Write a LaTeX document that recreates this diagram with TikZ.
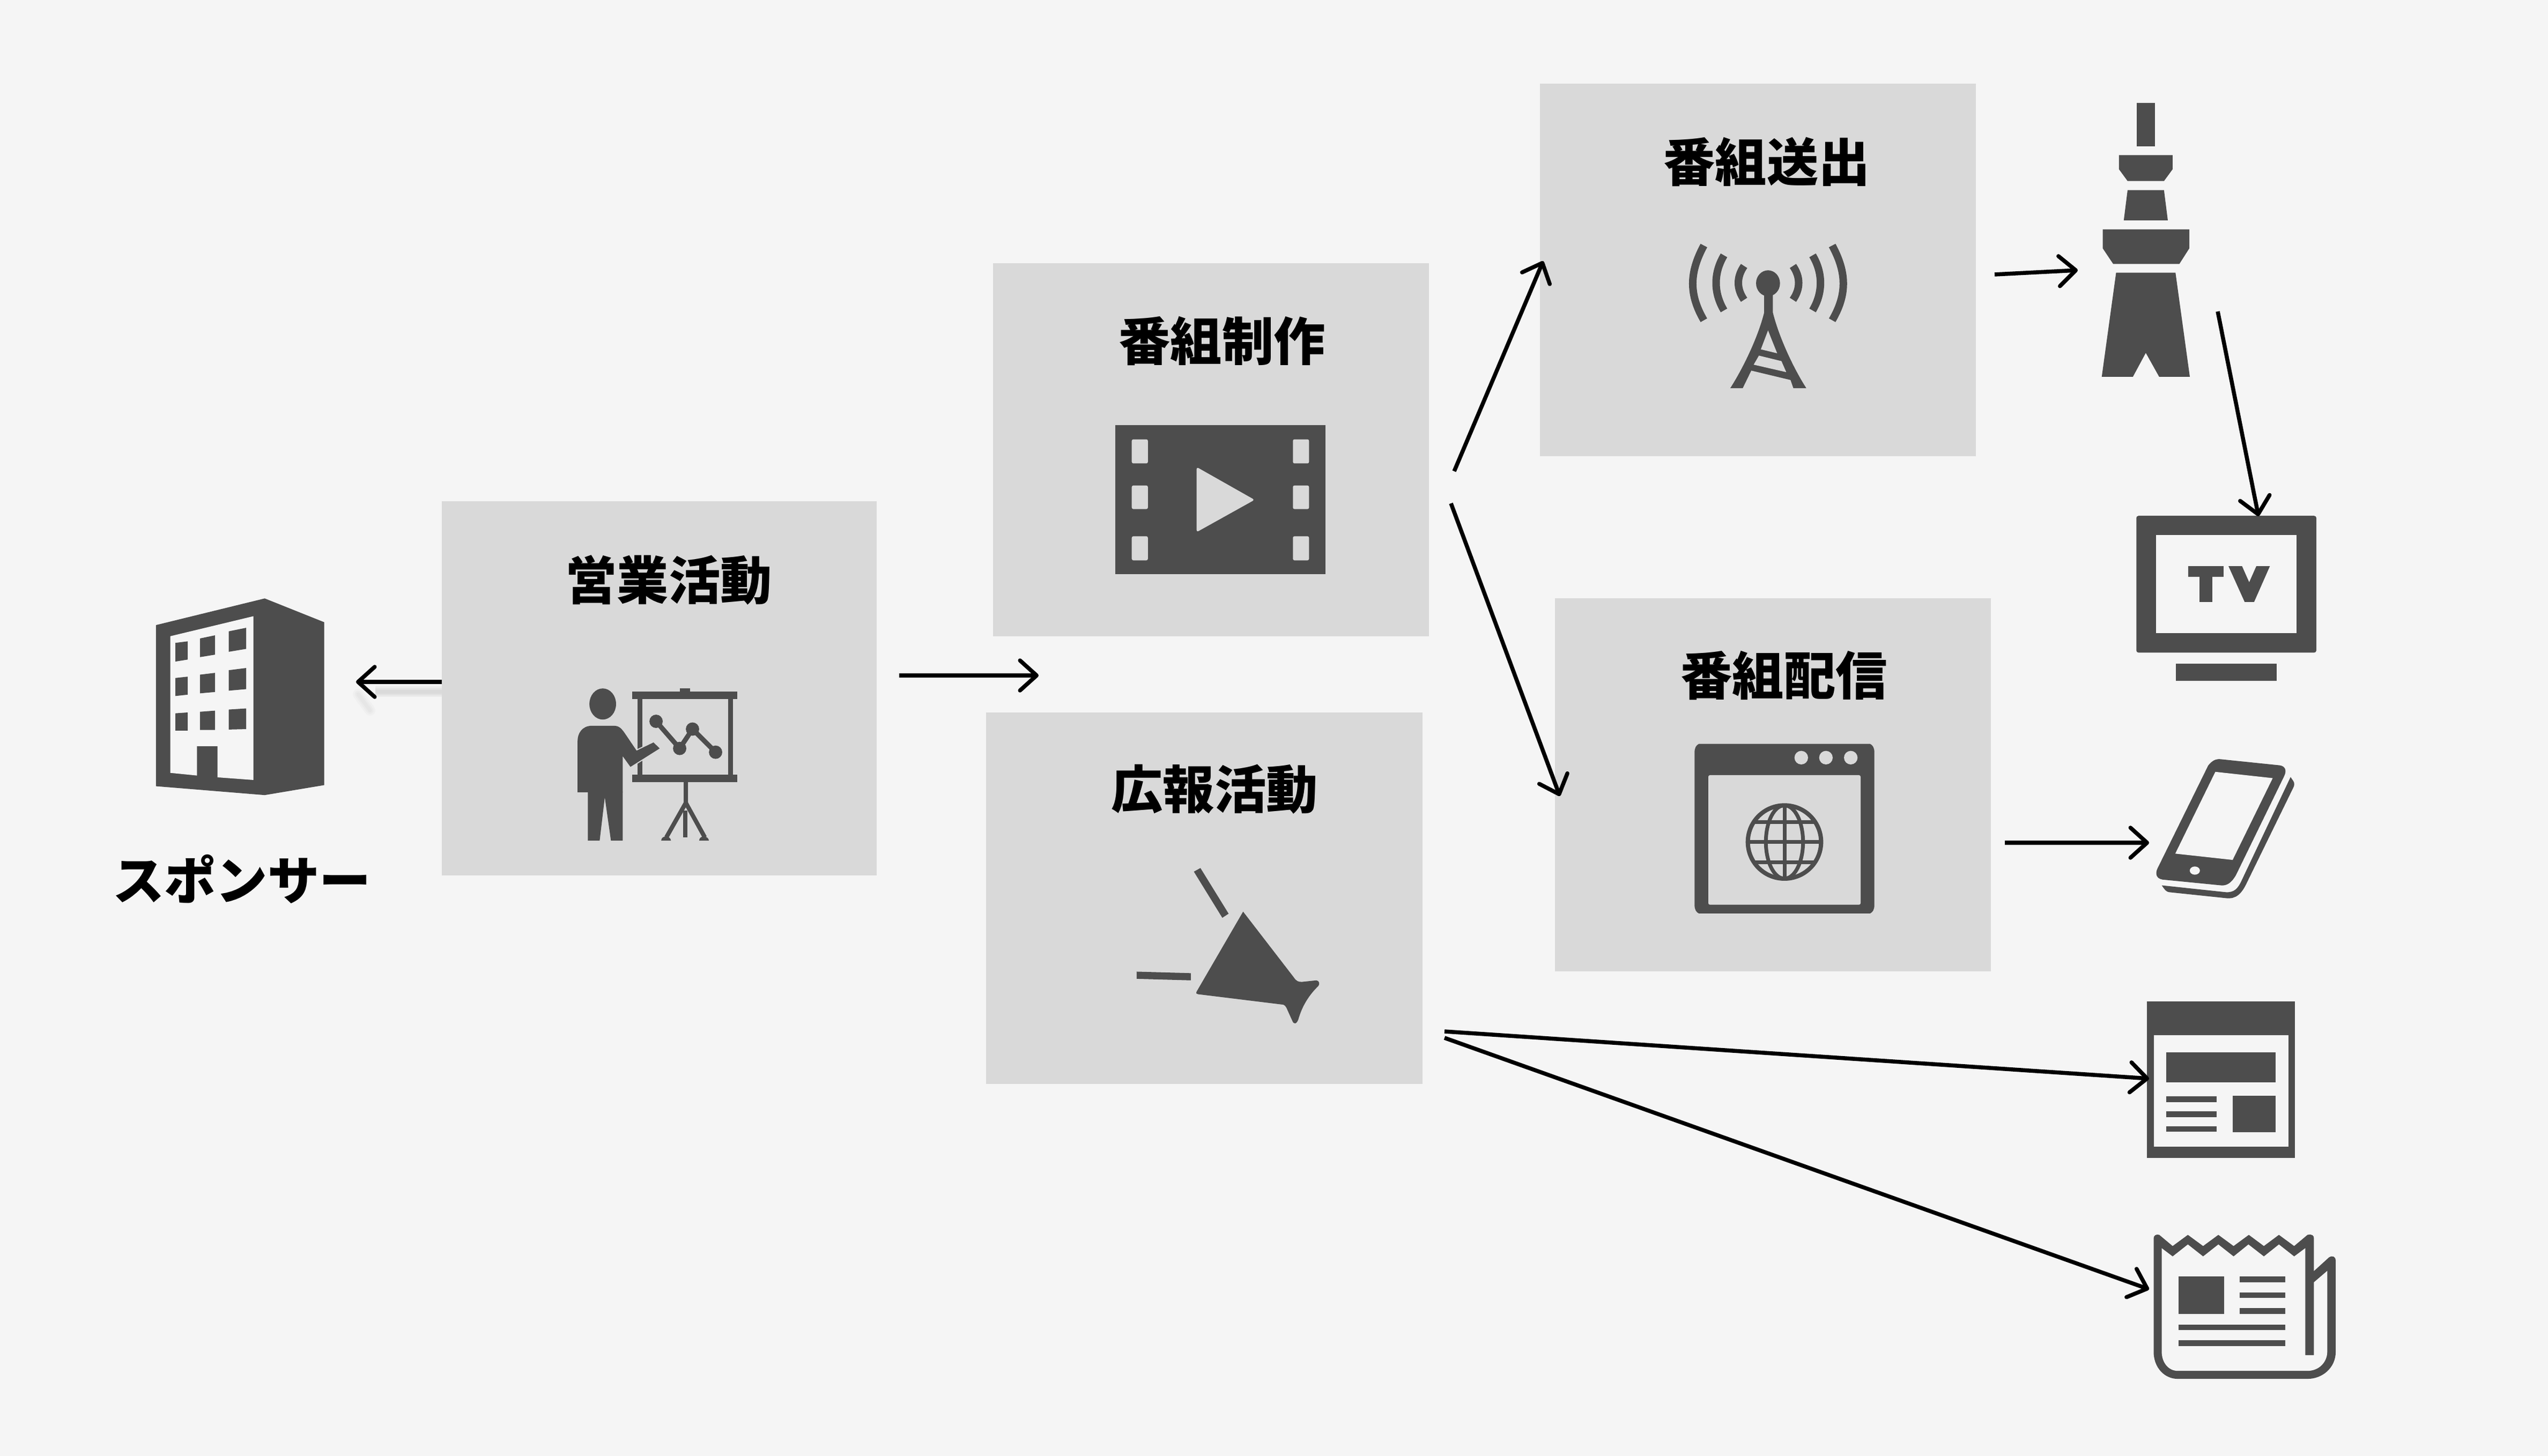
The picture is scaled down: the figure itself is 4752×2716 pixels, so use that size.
\documentclass[tikz,border=0pt]{standalone}
\usepackage{fontspec}
\usetikzlibrary{arrows.meta}
\newfontfamily\jp{Noto Sans CJK JP}
\definecolor{bgc}{HTML}{F5F5F5}
\definecolor{panelc}{HTML}{D9D9D9}
\definecolor{iconc}{HTML}{4D4D4D}
\tikzset{
  panel/.style={fill=panelc,draw=none,inner sep=0pt,outer sep=0pt,anchor=north west,minimum width=#1},
  title/.style={font=\jp\bfseries\fontsize{27.4}{27.4}\selectfont,text=black,inner sep=0pt,anchor=center},
  conn/.style={draw=black,line width=.075cm,-{Straight Barb[length=.31cm,width=.56cm,line width=.075cm,round]}},
  ic/.style={fill=iconc,draw=none},
  icp/.style={fill=panelc,draw=none},
  icb/.style={fill=bgc,draw=none},
  z1/.style={shift={(200,1050)},xscale=.9566,yscale=.4145},
  z2/.style={shift={(1900,500)},xscale=.5102,yscale=.9566},
  z3/.style={shift={(3000,150)},xscale=.8929,yscale=.7334},
  z4/.style={shift={(3900,900)},xscale=.3508,yscale=.5102},
  z5/.style={shift={(3900,1820)},xscale=.3508,yscale=.4974},
  z6/.style={shift={(3100,1350)},xscale=.3333,yscale=.3333},
}
\begin{document}
\begin{tikzpicture}[x=.01cm,y=-.01cm]
\fill[bgc] (0,0) rectangle (4752,2716);
\useasboundingbox (0,0) rectangle (4752,2716);

% soft shadow of the arrow to the sponsor
\foreach \w in {.2,.13,.07}{
  \draw[gray,opacity=.08,line width=\w cm] (824,1290) -- (700,1290);
  \draw[gray,opacity=.04,line width=\w cm,line cap=round] (668,1295) -- (690,1325);
}

% panels
\node[panel=8.11cm,minimum height=6.98cm] (sales) at (824,935) {};
\node[panel=8.12cm,minimum height=6.96cm] (prod) at (1852,491) {};
\node[panel=8.13cm,minimum height=6.93cm] (pr) at (1839,1329) {};
\node[panel=8.12cm,minimum height=6.95cm] (send) at (2872,156) {};
\node[panel=8.12cm,minimum height=6.96cm] (deliver) at (2900,1116) {};

% titles
\node[title] (tsales) at (1247,1082) {営業活動};
\node[title] (tprod) at (2279,636) {番組制作};
\node[title] (tpr) at (2265,1472) {広報活動};
\node[title] (tsend) at (3295,302) {番組送出};
\node[title] (tdeliver) at (3327,1260) {番組配信};
\node[title] (tsponsor) at (451,1640) {スポンサー};

% building
\begin{scope}[z1]
\fill[ic] (95,280) -- (307,160) -- (423,267) -- (423,1000) -- (307,1045) -- (95,1005) -- cycle;
\fill[icb] (123,330) -- (285,240) -- (285,977) -- (215,965) -- (215,825) -- (175,825) -- (175,957) -- (123,945) -- cycle;
\fill[ic] (133,360) -- (157,353) -- (157,435) -- (133,444) -- cycle;
\fill[ic] (181,340) -- (210,326) -- (210,413) -- (181,424) -- cycle;
\fill[ic] (237,308) -- (271,292) -- (271,387) -- (237,400) -- cycle;
\fill[ic] (133,518) -- (157,512) -- (157,593) -- (133,599) -- cycle;
\fill[ic] (181,503) -- (210,495) -- (210,581) -- (181,587) -- cycle;
\fill[ic] (237,483) -- (271,473) -- (271,568) -- (237,575) -- cycle;
\fill[ic] (133,677) -- (157,673) -- (157,755) -- (133,755) -- cycle;
\fill[ic] (181,670) -- (210,665) -- (210,752) -- (181,752) -- cycle;
\fill[ic] (237,660) -- (271,655) -- (271,748) -- (237,750) -- cycle;
\end{scope}

% presenter and board
\begin{scope}[z1]
\fill[ic] (1116,564) rectangle (1136,578);
\fill[ic] (1023,578) rectangle (1228,613);
\fill[ic] (1023,952) rectangle (1228,986);
\fill[ic] (1034,613) rectangle (1043,952);
\fill[ic] (1210,613) rectangle (1220,952);
\draw[iconc,line width=.09cm] (1070,713) -- (1116,835) -- (1141,748) -- (1186,852);
\fill[ic] (1070,713) ellipse [x radius=13,y radius=30];
\fill[ic] (1141,748) ellipse [x radius=13,y radius=30];
\fill[ic] (1116,835) ellipse [x radius=13,y radius=30];
\fill[ic] (1186,852) ellipse [x radius=13,y radius=30];
\draw[iconc,line width=.08cm] (1128,986) -- (1128,1080) -- (1090,1235);
\draw[iconc,line width=.08cm] (1128,1080) -- (1165,1235);
\draw[iconc,line width=.08cm] (1127,1115) -- (1127,1235);
\fill[ic] (1080,1250) .. controls (1080,1225) and (1098,1225) .. (1099,1250) -- cycle;
\fill[ic] (1154,1250) .. controls (1154,1225) and (1172,1225) .. (1173,1250) -- cycle;
\fill[ic] (966,635) ellipse [x radius=26,y radius=70];
\draw[panelc,line width=.04cm] (1005,870) -- (1020,918) -- (1077,835) -- (1065,808) -- (1032,845) -- (1020,810);
\fill[ic] (1005,1032) -- (1005,870) -- (1020,918) -- (1077,835) -- (1065,808) -- (1032,845) -- (1010,770) .. controls (1000,735) and (995,733) .. (985,733) -- (945,733) .. controls (925,733) and (917,770) .. (917,800) -- (917,1032) -- cycle;
\fill[ic] (917,1030) -- (1005,1030) -- (1005,1250) -- (982,1250) -- (970,1055) -- (960,1250) -- (937,1250) -- (937,1030) -- cycle;
\end{scope}

% film icon
\begin{scope}[z2]
\fill[ic] (353,306) rectangle (1121,597);
\foreach \x in {413,1002}{
  \foreach \y/\yy in {334/381,424/470,523/570}{
    \fill[icp,rounded corners=.03cm] (\x,\y) rectangle (\x+59,\yy);
  }
}
\fill[icp,rounded corners=.04cm] (650,388) -- (862,452) -- (650,515) -- cycle;
\end{scope}

% megaphone
\begin{scope}[z2]
\fill[ic] (820,1255) -- (1005,1383) .. controls (1015,1391) and (1022,1392) .. (1035,1392) -- (1088,1389) .. controls (1100,1390) and (1100,1397) .. (1095,1400) .. controls (1060,1418) and (1035,1440) .. (1022,1465) .. controls (1015,1475) and (1005,1475) .. (1000,1468) -- (978,1442) .. controls (972,1437) and (968,1436) .. (960,1436) -- (655,1416) .. controls (650,1416) and (647,1414) .. (650,1411) -- cycle;
\fill[ic] (640,1177) -- (664,1170) -- (767,1259) -- (744,1267) -- cycle;
\fill[ic] (431,1372) -- (629,1375) -- (629,1389) -- (431,1386) -- cycle;
\end{scope}

% antenna
\begin{scope}[z3]
\draw[iconc,line width=.14cm] (199,420) .. controls (168,490) and (168,545) .. (199,610);
\draw[iconc,line width=.14cm] (241,445) .. controls (219,490) and (219,540) .. (241,585);
\draw[iconc,line width=.14cm] (283,472) .. controls (267,500) and (267,530) .. (283,558);
\draw[iconc,line width=.14cm] (467,420) .. controls (498,490) and (498,545) .. (467,610);
\draw[iconc,line width=.14cm] (426,445) .. controls (448,490) and (448,540) .. (426,585);
\draw[iconc,line width=.14cm] (385,472) .. controls (401,500) and (401,530) .. (385,558);
\fill[ic] (333,516) ellipse [x radius=25,y radius=33];
\fill[ic] (325,535) -- (343,535) -- (343,590) .. controls (355,650) and (385,730) .. (413,783) -- (386,783) -- (380,762) -- (298,738) -- (280,783) -- (254,783) .. controls (282,730) and (313,650) .. (325,590) -- cycle;
\fill[icp] (333,636) -- (352,694) -- (318,684) -- cycle;
\fill[icp] (314,700) -- (361,714) -- (371,742) -- (303,723) -- cycle;
\end{scope}

% sky tower
\begin{scope}[z3]
\fill[ic] (1103,57) rectangle (1141,168);
\fill[ic] (1066,190) -- (1178,190) -- (1178,226) -- (1160,256) -- (1084,256) -- (1066,226) -- cycle;
\fill[ic] (1084,279) -- (1160,279) -- (1168,356) -- (1076,356) -- cycle;
\fill[ic] (1032,379) -- (1213,379) -- (1213,427) -- (1192,467) -- (1054,467) -- (1032,427) -- cycle;
\fill[ic] (1060,489) -- (1184,489) -- (1214,754) -- (1150,754) -- (1122,693) -- (1095,754) -- (1030,754) -- cycle;
\end{scope}

% television
\begin{scope}[z4]
\fill[ic,rounded corners=.04cm] (240,122) rectangle (1197,622);
\fill[icb] (344,193) rectangle (1093,550);
\fill[ic] (450,662) rectangle (987,725);
\fill[ic] (515,306) rectangle (703,344);
\fill[ic] (575,344) rectangle (643,437);
\fill[ic] (730,306) -- (802,306) -- (840,365) -- (878,306) -- (950,306) -- (866,437) -- (816,437) -- cycle;
\end{scope}

% phone
\begin{scope}[z4]
\fill[ic] (622,1035) .. controls (645,1015) and (665,1010) .. (690,1012) -- (1000,1034) .. controls (1035,1037) and (1040,1055) .. (1025,1075) -- (770,1435) .. controls (745,1465) and (720,1475) .. (690,1473) -- (380,1452) .. controls (345,1448) and (340,1430) .. (352,1412) -- cycle;
\fill[icb] (660,1058) -- (965,1081) -- (752,1380) -- (447,1357) -- cycle;
\fill[icb] (551,1419) ellipse [x radius=27,y radius=15];
\fill[ic] (1060,1077) -- (1075,1092) .. controls (1082,1100) and (1080,1108) .. (1075,1115) -- (830,1460) .. controls (800,1505) and (770,1523) .. (720,1520) -- (415,1498) .. controls (400,1497) and (392,1490) .. (375,1473) -- (715,1498) .. controls (760,1500) and (780,1485) .. (800,1455) -- cycle;
\end{scope}

% web page icon
\begin{scope}[z5]
\fill[ic] (296,96) rectangle (1083,683);
\fill[icb] (332,224) rectangle (1048,641);
\fill[ic] (400,288) rectangle (980,400);
\fill[ic] (400,453) rectangle (667,474);
\fill[ic] (400,509) rectangle (667,530);
\fill[ic] (400,565) rectangle (667,586);
\fill[ic] (753,451) rectangle (980,588);
\end{scope}

% newspaper
\begin{scope}[z5]
\fill[ic] (332,1410) -- (332,985) .. controls (332,975) and (345,968) .. (362,972) -- (433,1014) -- (514,972) -- (595,1014) -- (676,972) -- (757,1014) -- (838,972) -- (918,1014) -- (998,972) -- (1079,1014) -- (1150,972) .. controls (1175,968) and (1184,975) .. (1184,985) -- (1184,1108) -- (1265,1056) .. controls (1285,1048) and (1300,1055) .. (1300,1068) -- (1300,1410) .. controls (1300,1470) and (1230,1512) .. (1150,1512) -- (460,1512) .. controls (390,1512) and (332,1470) .. (332,1410) -- cycle;
\fill[icb] (375,1022) -- (433,1053) -- (514,1008) -- (595,1053) -- (676,1008) -- (757,1053) -- (836,1008) -- (918,1053) -- (998,1008) -- (1079,1053) -- (1138,1022) -- (1138,1423) -- (1184,1423) -- (1184,1150) -- (1255,1107) -- (1255,1410) .. controls (1255,1450) and (1210,1482) .. (1150,1482) -- (460,1482) .. controls (410,1482) and (375,1450) .. (375,1410) -- cycle;
\fill[ic] (465,1128) rectangle (707,1268);
\fill[ic] (790,1128) rectangle (1032,1149);
\fill[ic] (790,1188) rectangle (1032,1208);
\fill[ic] (790,1247) rectangle (1032,1268);
\fill[ic] (465,1308) rectangle (1032,1328);
\fill[ic] (465,1368) rectangle (1032,1389);
\end{scope}

% browser icon with globe
\begin{scope}[z6]
\fill[ic] (181,160) .. controls (181,135) and (190,120) .. (205,113) -- (1163,113) .. controls (1178,120) and (1187,135) .. (1187,160) -- (1187,1015) .. controls (1187,1040) and (1178,1055) .. (1163,1062) -- (205,1062) .. controls (190,1055) and (181,1040) .. (181,1015) -- cycle;
\fill[icp,rounded corners=.03cm] (258,288) -- (1110,288) -- (1110,1013) -- (258,1013) -- cycle;
\fill[icp] (778,190) circle [radius=38];
\fill[icp] (916,190) circle [radius=38];
\fill[icp] (1055,190) circle [radius=38];
\begin{scope}
\clip (684,662) circle [radius=210];
\draw[iconc,line width=.07cm] (684,440) -- (684,880);
\draw[iconc,line width=.07cm] (470,662) -- (900,662);
\draw[iconc,line width=.07cm] (470,552) -- (900,552);
\draw[iconc,line width=.07cm] (470,775) -- (900,775);
\draw[iconc,line width=.07cm] (684,662) ellipse [x radius=104,y radius=205];
\end{scope}
\draw[iconc,line width=.08cm] (684,662) circle [radius=205];
\end{scope}

% connector ends
\coordinate (a1s) at (824,1272);
\coordinate (a1e) at (664,1272);
\coordinate (a2s) at (1677,1260);
\coordinate (a2e) at (1937,1260);
\coordinate (a3s) at (2712,879);
\coordinate (a3e) at (2878,487);
\coordinate (a4s) at (2706,939);
\coordinate (a4e) at (2909,1485);
\coordinate (a5s) at (3720,512);
\coordinate (a5e) at (3875,504);
\coordinate (a6s) at (4136,581);
\coordinate (a6e) at (4212,963);
\coordinate (a7s) at (3739,1572);
\coordinate (a7e) at (4008,1572);
\coordinate (a8s) at (2694,1924);
\coordinate (a8e) at (4008,2012);
\coordinate (a9s) at (2694,1936);
\coordinate (a9e) at (4008,2405);

\foreach \n in {1,...,9}{
  \draw[conn] (a\n s) -- (a\n e);
}
\end{tikzpicture}
\end{document}
